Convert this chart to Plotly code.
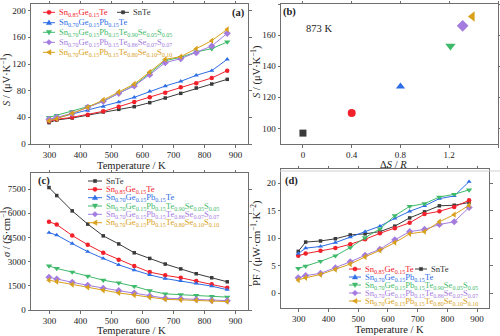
import plotly.graph_objects as go

# ---- data -------------------------------------------------------------
T = [298, 323, 373, 423, 473, 523, 573, 623, 673, 723, 773, 823, 873]

series_keys = ["SnTe", "Ge15", "Pb15", "SeS05", "SeS07", "SeS10"]
names = {
    "SnTe": "SnTe",
    "Ge15": "Sn<sub>0.85</sub>Ge<sub>0.15</sub>Te",
    "Pb15": "Sn<sub>0.70</sub>Ge<sub>0.15</sub>Pb<sub>0.15</sub>Te",
    "SeS05": "Sn<sub>0.70</sub>Ge<sub>0.15</sub>Pb<sub>0.15</sub>Te<sub>0.90</sub>Se<sub>0.05</sub>S<sub>0.05</sub>",
    "SeS07": "Sn<sub>0.70</sub>Ge<sub>0.15</sub>Pb<sub>0.15</sub>Te<sub>0.86</sub>Se<sub>0.07</sub>S<sub>0.07</sub>",
    "SeS10": "Sn<sub>0.70</sub>Ge<sub>0.15</sub>Pb<sub>0.15</sub>Te<sub>0.80</sub>Se<sub>0.10</sub>S<sub>0.10</sub>",
}

# Seebeck coefficient S (uV/K)
seebeck = {
    "SnTe":  [32, 36, 39, 43, 48, 52, 56, 62, 69, 76, 84, 90, 97],
    "Ge15":  [34, 37, 40, 44, 49, 56, 63, 70, 77, 85, 91, 99, 110],
    "Pb15":  [36, 39, 45, 50, 56, 63, 70, 79, 87, 94, 103, 110, 127],
    "SeS05": [40, 43, 49, 56, 64, 76, 88, 106, 125, 130, 138, 143, 153],
    "SeS07": [37, 40, 46, 55, 64, 76, 87, 104, 122, 128, 137, 147, 166],
    "SeS10": [35, 38, 46, 55, 66, 78, 90, 108, 127, 131, 143, 155, 172],
}

# configurational entropy vs Seebeck at 873 K
dS_R = [0.0, 0.40, 0.80, 1.21, 1.31, 1.39]
S_873 = [97, 110, 127, 153, 166, 172]

# electrical conductivity (S/cm)
sigma = {
    "SnTe":  [7600, 7100, 6150, 5330, 4600, 4100, 3550, 3200, 2850, 2550, 2250, 2000, 1750],
    "Ge15":  [5480, 5300, 4620, 4050, 3550, 3120, 2730, 2350, 2150, 2000, 1800, 1600, 1380],
    "Pb15":  [4800, 4650, 4120, 3620, 3200, 2800, 2480, 2180, 1950, 1800, 1650, 1480, 1260],
    "SeS05": [2730, 2580, 2350, 2100, 1850, 1680, 1470, 1200, 1000, 950, 900, 850, 800],
    "SeS07": [2030, 1920, 1720, 1530, 1350, 1200, 1050, 870, 730, 700, 650, 600, 580],
    "SeS10": [1850, 1760, 1580, 1400, 1220, 1060, 930, 790, 660, 630, 600, 560, 520],
}

# power factor (uW cm^-1 K^-2)
pf = {
    "SnTe":  [7.6, 9.3, 9.5, 9.9, 10.6, 10.8, 11.2, 12.2, 13.7, 14.8, 15.9, 16.0, 16.5],
    "Ge15":  [6.8, 7.2, 7.7, 8.2, 8.9, 9.8, 10.9, 11.8, 12.8, 14.4, 14.9, 15.7, 16.9],
    "Pb15":  [7.2, 8.2, 8.5, 9.2, 10.2, 11.2, 12.2, 13.6, 14.9, 15.9, 17.2, 17.7, 20.3],
    "SeS05": [4.5, 4.9, 5.8, 6.8, 8.3, 10.1, 11.7, 14.1, 15.8, 16.3, 17.5, 18.0, 18.8],
    "SeS07": [2.8, 3.2, 3.6, 4.6, 5.7, 6.9, 8.0, 9.7, 11.2, 11.6, 12.5, 13.0, 15.6],
    "SeS10": [2.4, 2.8, 3.4, 4.3, 5.3, 6.6, 7.8, 9.2, 10.8, 11.2, 13.0, 14.3, 16.0],
}

# ---- styles -----------------------------------------------------------
colors = {"SnTe": "#3a3a3a", "Ge15": "#f2202a", "Pb15": "#2d6de6",
          "SeS05": "#3fba6a", "SeS07": "#a47ce0", "SeS10": "#d9a01a"}
symbols = {"SnTe": "square", "Ge15": "circle", "Pb15": "triangle-up",
           "SeS05": "triangle-down", "SeS07": "diamond", "SeS10": "triangle-left"}
msize = {"SnTe": 3.5, "Ge15": 4.5, "Pb15": 4.5, "SeS05": 5.5, "SeS07": 5.5, "SeS10": 5.5}

FONT = "Liberation Serif"
TICK_SIZE = 9
TITLE_SIZE = 10.5
LEG_SIZE = 8.6
W, H = 500, 336


def px(x):
    return x / W


def py(y):
    return 1 - y / H


fig = go.Figure()

# panel (a): Seebeck vs T
for k in series_keys:
    fig.add_trace(go.Scatter(x=T, y=seebeck[k], mode="lines+markers", xaxis="x", yaxis="y",
                             line=dict(color=colors[k], width=1),
                             marker=dict(symbol=symbols[k], size=msize[k], color=colors[k]),
                             showlegend=False))

# panel (b): S at 873 K vs dS/R
for i, k in enumerate(series_keys):
    fig.add_trace(go.Scatter(x=[dS_R[i]], y=[S_873[i]], mode="markers", xaxis="x2", yaxis="y2",
                             marker=dict(symbol=symbols[k], size=msize[k] + 3.5, color=colors[k]),
                             showlegend=False))

# panel (c): conductivity vs T
for k in series_keys:
    fig.add_trace(go.Scatter(x=T, y=sigma[k], mode="lines+markers", xaxis="x3", yaxis="y3",
                             line=dict(color=colors[k], width=1),
                             marker=dict(symbol=symbols[k], size=msize[k], color=colors[k]),
                             showlegend=False))

# panel (d): power factor vs T
for k in series_keys:
    fig.add_trace(go.Scatter(x=T, y=pf[k], mode="lines+markers", xaxis="x4", yaxis="y4",
                             line=dict(color=colors[k], width=1),
                             marker=dict(symbol=symbols[k], size=msize[k], color=colors[k]),
                             showlegend=False))

axis_common = dict(showline=True, linecolor="#6e6e6e", linewidth=1, mirror="ticks",
                   ticks="outside", ticklen=2.5, tickcolor="#6e6e6e", showgrid=False,
                   zeroline=False, automargin=False,
                   tickfont=dict(family=FONT, size=TICK_SIZE, color="#222"))

tv_T = [300, 400, 500, 600, 700, 800, 900]

fig.update_layout(
    width=W, height=H, margin=dict(l=0, r=0, t=0, b=0),
    paper_bgcolor="white", plot_bgcolor="white",
    font=dict(family=FONT, color="#222"),
    xaxis=dict(domain=[px(31), px(248)], range=[240, 940], tickvals=tv_T, anchor="y", **axis_common),
    yaxis=dict(domain=[py(144), py(4)], range=[0, 210], tickvals=[0, 40, 80, 120, 160, 200],
               anchor="x", **axis_common),
    xaxis2=dict(domain=[px(281), px(498)], range=[-0.18, 1.6], tickvals=[0, 0.4, 0.8, 1.2, 1.6],
                ticktext=["0", "0.4", "0.8", "1.2", "1.6"], anchor="y2", **axis_common),
    yaxis2=dict(domain=[py(144), py(4)], range=[90, 180], tickvals=[100, 120, 140, 160, 180],
                anchor="x2", **axis_common),
    xaxis3=dict(domain=[px(31), px(248)], range=[240, 940], tickvals=tv_T, anchor="y3", **axis_common),
    yaxis3=dict(domain=[py(310), py(173)], range=[0, 8500], tickvals=[0, 1500, 3000, 4500, 6000, 7500],
                anchor="x3", **axis_common),
    xaxis4=dict(domain=[px(281), px(489)], range=[240, 940], tickvals=tv_T, anchor="y4", **axis_common),
    yaxis4=dict(domain=[py(308), py(169)], range=[-2.7, 22.6], tickvals=[0, 5, 10, 15, 20],
                anchor="x4", **axis_common),
)

annotations = []
shapes = []


def label(text, x, y, size=TITLE_SIZE, angle=0, xanchor="center", yanchor="middle", color="#222"):
    annotations.append(dict(text=text, x=px(x), y=py(y), xref="paper", yref="paper",
                            showarrow=False, textangle=angle, xanchor=xanchor, yanchor=yanchor,
                            font=dict(family=FONT, size=size, color=color)))


# axis titles
label("Temperature / K", 131, 165.5)
label("Temperature / K", 131, 330.5)
label("Temperature / K", 389, 329.5)
label("Δ<i>S</i> / <i>R</i>", 393, 164)
label("<i>S</i> / (μV·K<sup>−1</sup>)", 6, 80, angle=-90)
label("<i>S</i> / (μV·K<sup>−1</sup>)", 256, 72, angle=-90)
label("<i>σ</i> / (S·cm<sup>−1</sup>)", 6, 232, angle=-90)
label("PF / (μW·cm<sup>−1</sup>·K<sup>−2</sup>)", 256, 243, angle=-90)

# panel tags
label("<b>(a)</b>", 238, 13, size=10.5)
label("<b>(b)</b>", 289, 12, size=10.5)
label("<b>(c)</b>", 44, 181, size=10.5)
label("<b>(d)</b>", 291, 181, size=10.5)

annotations.append(dict(text="873 K", x=0.13, y=164, xref="x2", yref="y2", showarrow=False,
                        font=dict(family=FONT, size=10.5, color="#222")))

# thin separator under panel (b)
shapes.append(dict(type="line", xref="paper", yref="paper", x0=px(280), x1=px(500),
                   y0=py(171), y1=py(171), line=dict(color="#cfcfcf", width=1)))

# marker outlines for legend samples, pixel offsets (y up)
marker_paths = {
    "triangle-up": "M0,2.6 L2.6,-1.9 L-2.6,-1.9 Z",
    "triangle-down": "M0,-2.6 L2.6,1.9 L-2.6,1.9 Z",
    "diamond": "M0,2.8 L2.8,0 L0,-2.8 L-2.8,0 Z",
    "triangle-left": "M-2.6,0 L1.9,2.6 L1.9,-2.6 Z",
}


def legend_item(k, x, y, length=12, gap=1.5, size=LEG_SIZE):
    c = colors[k]
    shapes.append(dict(type="line", xref="paper", yref="paper", x0=px(x), x1=px(x + length),
                       y0=py(y), y1=py(y), line=dict(color=c, width=1)))
    cx, cy = px(x + length / 2), py(y)
    sym = symbols[k]
    base = dict(xref="paper", yref="paper", xsizemode="pixel", ysizemode="pixel",
                xanchor=cx, yanchor=cy, fillcolor=c, line=dict(color=c, width=0.5))
    if sym == "circle":
        shapes.append(dict(type="circle", x0=-2.1, x1=2.1, y0=-2.1, y1=2.1, **base))
    elif sym == "square":
        shapes.append(dict(type="rect", x0=-1.6, x1=1.6, y0=-1.6, y1=1.6, **base))
    else:
        shapes.append(dict(type="path", path=marker_paths[sym], **base))
    label(names[k], x + length + gap, y, size=size, xanchor="left",
          color=("#333" if k == "SnTe" else c))


# legend, panel (a)
legend_item("Ge15", 43, 12.3)
legend_item("SnTe", 117, 12.3)
for k, y in zip(["Pb15", "SeS05", "SeS07", "SeS10"], [22.7, 32.3, 42.3, 52.3]):
    legend_item(k, 43, y)

# legend, panel (c)
for k, y in zip(series_keys, [181, 189.3, 197.7, 206, 214.3, 222.7]):
    legend_item(k, 88, y, length=14)

# legend, panel (d)
legend_item("Ge15", 349, 269)
legend_item("SnTe", 415, 269)
for k, y in zip(["Pb15", "SeS05", "SeS07", "SeS10"], [277, 285, 293, 301]):
    legend_item(k, 349, y)

fig.update_layout(annotations=annotations, shapes=shapes)

fig.write_html("out.html")
